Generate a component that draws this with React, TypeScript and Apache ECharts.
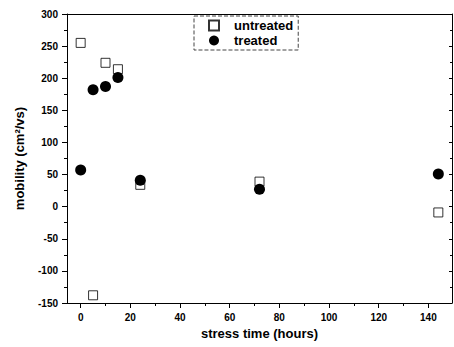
import React, { useEffect, useRef } from "react";
import * as echarts from "echarts";

const hours = [0, 5, 10, 15, 24, 72, 144];
const untreated = [255, -138, 224, 214, 34, 39, -9];
const treated = [57, 182, 187, 201, 41, 27, 51];
const xTicks = [0, 20, 40, 60, 80, 100, 120, 140];
const xTitle = "stress time (hours)";
const yTitle = "mobility (cm²/vs)";

export default function App() {
  const ref = useRef<HTMLDivElement>(null);
  useEffect(() => {
    if (!ref.current) return;
    const chart = echarts.init(ref.current, null, { renderer: "svg" });
    const font = "Liberation Sans, Arial, sans-serif";
    const line = { show: true, onZero: false, lineStyle: { color: "#000", width: 1 } };
    chart.setOption({
      animation: false,
      backgroundColor: "#fff",
      grid: { left: 67, right: 2, top: 14, bottom: 44 },
      legend: {
        orient: "vertical",
        left: 194,
        top: 16,
        padding: [3, 5, 3, 14],
        itemGap: 2,
        itemWidth: 10,
        itemHeight: 10,
        borderColor: "#444",
        borderWidth: 1,
        borderType: "dashed",
        textStyle: { fontFamily: font, fontWeight: "bold", fontSize: 13, color: "#000", padding: [0, 0, 0, 10] },
        data: [
          { name: "untreated", icon: "rect" },
          { name: "treated", icon: "circle" },
        ],
      },
      xAxis: [
        {
          type: "value",
          min: -5.5,
          max: 149.5,
          splitNumber: 8,
          position: "bottom",
          axisLine: line,
          axisTick: { show: true, inside: false, length: 5, customValues: xTicks, lineStyle: { color: "#000" } },
          minorTick: { show: true, splitNumber: 2, length: 3, lineStyle: { color: "#000" } },
          splitLine: { show: false },
          axisLabel: {
            fontFamily: font,
            fontWeight: "bold",
            fontSize: 10,
            color: "#000",
            margin: 9,
            customValues: xTicks,
            formatter: (v: number) => (v % 20 === 0 ? String(v) : ""),
          },
          name: xTitle,
          nameLocation: "middle",
          nameGap: 24,
          nameTextStyle: { fontFamily: font, fontWeight: "bold", fontSize: 13, color: "#000" },
        },
        {
          type: "value",
          min: -5.5,
          max: 149.5,
          position: "top",
          axisLine: line,
          axisTick: { show: false },
          splitLine: { show: false },
          axisLabel: { show: false },
        },
      ],
      yAxis: [
        {
          type: "value",
          min: -150,
          max: 300,
          interval: 50,
          position: "left",
          axisLine: line,
          axisTick: { show: true, inside: false, length: 5, lineStyle: { color: "#000" } },
          minorTick: { show: true, splitNumber: 2, length: 3, lineStyle: { color: "#000" } },
          splitLine: { show: false },
          axisLabel: { fontFamily: font, fontWeight: "bold", fontSize: 10, color: "#000", margin: 9 },
          name: yTitle,
          nameLocation: "middle",
          nameGap: 41,
          nameRotate: 90,
          nameTextStyle: { fontFamily: font, fontWeight: "bold", fontSize: 13, color: "#000" },
        },
        {
          type: "value",
          min: -150,
          max: 300,
          interval: 50,
          position: "right",
          axisLine: line,
          axisTick: { show: true, inside: true, length: 3, lineStyle: { color: "#000" } },
          minorTick: { show: true, splitNumber: 2, length: 2, lineStyle: { color: "#000" } },
          splitLine: { show: false },
          axisLabel: { show: false },
        },
      ],
      series: [
        {
          name: "untreated",
          type: "scatter",
          symbol: "rect",
          symbolSize: 9,
          itemStyle: { color: "#fff", borderColor: "#000", borderWidth: 1 },
          data: hours.map((h, i) => [h, untreated[i]]),
          z: 2,
        },
        {
          name: "treated",
          type: "scatter",
          symbol: "circle",
          symbolSize: 11,
          itemStyle: { color: "#000", opacity: 1 },
          data: hours.map((h, i) => [h, treated[i]]),
          z: 3,
        },
      ],
    });
    return () => chart.dispose();
  }, []);
  return <div ref={ref} style={{ width: 454, height: 347, position: "absolute", left: 0, top: 0 }} />;
}
